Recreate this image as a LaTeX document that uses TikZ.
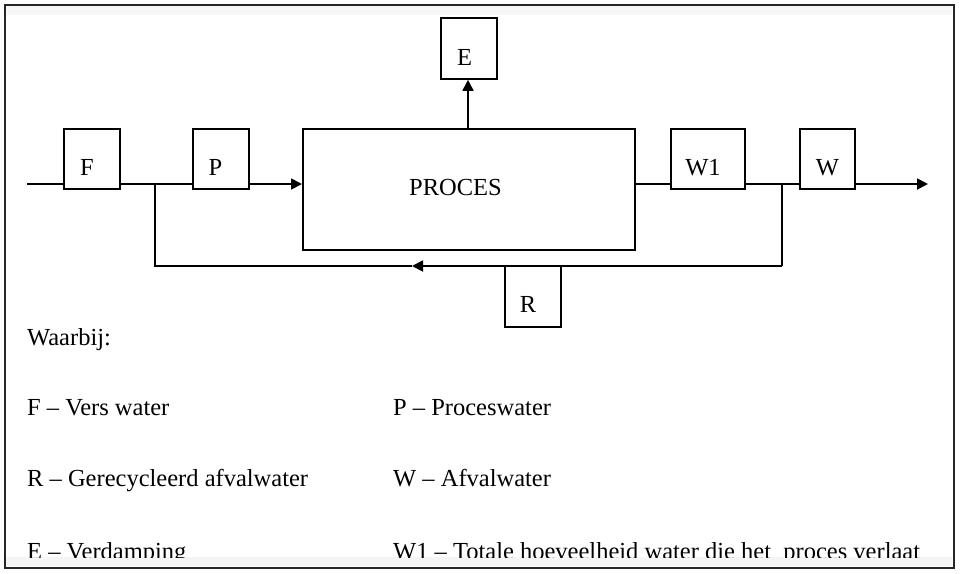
\documentclass[tikz,border=0pt]{standalone}
\usepackage{fontspec}
\setmainfont{Liberation Serif}
\usetikzlibrary{arrows.meta}
\begin{document}
\begin{tikzpicture}[x=1pt,y=-1pt,
  every node/.style={font=\fontsize{24.5}{28}\selectfont},
  boxnode/.style={draw=black,line width=1.8pt,inner sep=0pt,anchor=north west},
  boxlabel/.style={anchor=base,inner sep=0pt},
  flow/.style={line width=1.8pt},
  arr/.style={flow,-{Triangle[length=11pt,width=11pt]}},
  legend/.style={anchor=base west,inner sep=0pt}]
\useasboundingbox (0,0) rectangle (960,573);
\fill[white] (0,0) rectangle (960,573);
\fill[gray!6] (6,6) rectangle (952,15);
\fill[gray!8] (6,557) rectangle (952,566);
\draw[line width=2.2pt,black!85] (5,5) rectangle (954,568);

% boxes
\node[boxnode,minimum width=56pt,minimum height=60pt] (F) at (63,128) {};
\node[boxnode,minimum width=56pt,minimum height=60pt] (P) at (192,128) {};
\node[boxnode,minimum width=332pt,minimum height=121pt] (proc) at (302,128) {};
\node[boxnode,minimum width=56pt,minimum height=61pt] (E) at (440,17) {};
\node[boxnode,minimum width=74pt,minimum height=60pt] (W1) at (670,128) {};
\node[boxnode,minimum width=55pt,minimum height=60pt] (W) at (799,128) {};
\node[boxnode,minimum width=56pt,minimum height=61pt] (R) at (504,265) {};

% box labels
\node[boxlabel] (tF) at (87,175) {F};
\node[boxlabel] (tP) at (215.5,175) {P};
\node[boxlabel] (tE) at (464.5,65) {E};
\node[boxlabel] (tproc) at (455.5,195) {PROCES};
\node[boxlabel] (tW1) at (703,175) {W1};
\node[boxlabel] (tW) at (827.5,175) {W};
\node[boxlabel] (tR) at (528,312) {R};

% coordinates
\coordinate (start) at (27,184);
\coordinate (j1) at (155,184);
\coordinate (j2) at (782,184);
\coordinate (b1) at (155,266);
\coordinate (b2) at (782,266);
\coordinate (mid) at (412,266);
\coordinate (out) at (928,184);
\coordinate (ptop) at (468,128);
\coordinate (pin) at (302,184);
\coordinate (pout) at (634,184);

% connectors
\draw[flow] (start) -- (start -| F.west);
\draw[flow] (F.east |- start) -- (P.west |- start);
\draw[arr] (P.east |- start) -- (pin);
\draw[flow] (pout) -- (W1.west |- pout);
\draw[flow] (W1.east |- pout) -- (W.west |- pout);
\draw[arr] (W.east |- pout) -- (out);
\draw[arr] (ptop) -- (ptop |- E.south);
\draw[flow] (j2) -- (b2);
\draw[arr] (b2) -- (mid);
\draw[flow] (mid) -- (b1) -- (j1);

% legend
\node[legend] (waar) at (27,345) {Waarbij:};
\node[legend] (lf) at (27,415) {F -- Vers water};
\node[legend] (lp) at (393,415) {P -- Proceswater};
\node[legend] (lr) at (27,486) {R -- Gerecycleerd afvalwater};
\node[legend] (lw) at (393,486) {W -- Afvalwater};
\begin{scope}
\clip (6,0) rectangle (952,557);
\node[legend] (le) at (27,559) {E -- Verdamping};
\node[legend] (lw1) at (393,559) {W1 -- Totale hoeveelheid water die het\ \ proces verlaat};
\end{scope}
\end{tikzpicture}
\end{document}
